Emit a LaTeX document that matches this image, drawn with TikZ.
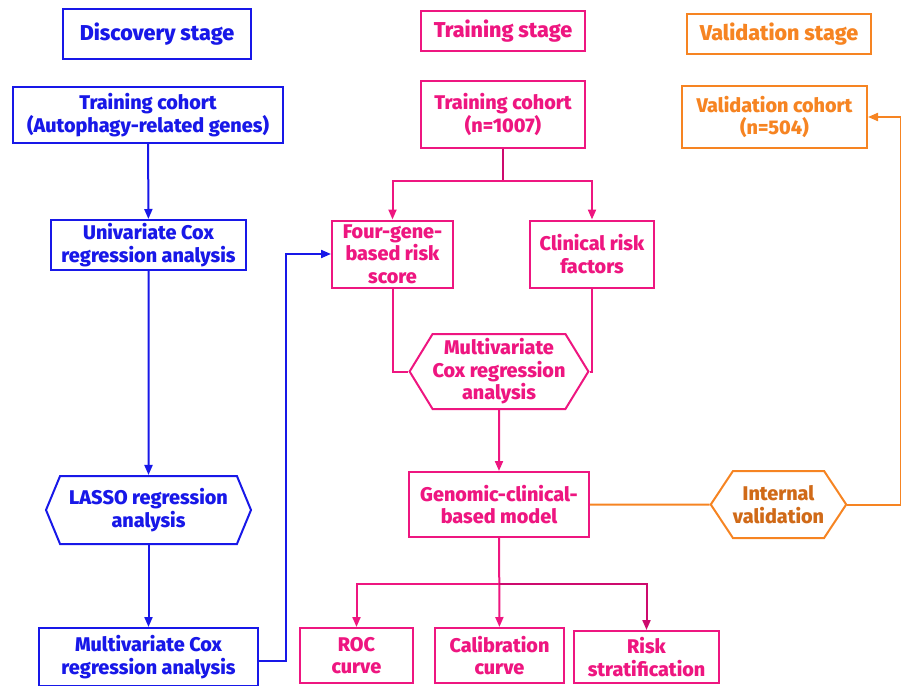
\documentclass[tikz,border=0pt]{standalone}
\usepackage{fontspec}
\setmainfont{Fira Sans}[BoldFont={Fira Sans ExtraBold}]
\usetikzlibrary{positioning,arrows.meta,shapes.symbols}

\definecolor{discblue}{RGB}{24,24,232}
\definecolor{trainpink}{RGB}{238,22,128}
\definecolor{stempink}{RGB}{205,10,110}
\definecolor{valorange}{RGB}{246,132,34}
\definecolor{valtext}{RGB}{208,106,24}

\begin{document}
\begin{tikzpicture}[
    x=1pt, y=-1pt,
    >={Triangle[length=10pt,width=8pt]},
    line width=2pt,
    every node/.style={font=\bfseries\fontsize{19.8}{22.5}\selectfont, align=center, inner sep=0pt},
    box/.style={draw, rectangle},
    hex/.style={draw, signal, signal to=east and west, signal pointer angle=#1},
    discstage/.style={draw=discblue, text=discblue},
    trainstage/.style={draw=trainpink, text=trainpink},
    valstage/.style={draw=valorange, text=valorange},
    title/.style={font=\bfseries\fontsize{21.5}{24}\selectfont}
]
\useasboundingbox (0,0) rectangle (901,685);

% ---------------- Discovery stage ----------------
\node[box,discstage,title,minimum width=188,minimum height=50] (disc) at (157,34) {Discovery stage};
\node[box,discstage,minimum width=270,minimum height=56] (trB) at (148,115) {Training cohort\\(Autophagy-related genes)};
\node[box,discstage,minimum width=195,minimum height=50] (uni) at (148.5,245) {Univariate Cox\\regression analysis};
\node[hex=135,discstage,minimum width=205,minimum height=68] (lasso) at (148.5,510) {LASSO regression\\analysis};
\node[box,discstage,minimum width=219,minimum height=58] (multB) at (148.5,657) {Multivariate Cox\\regression analysis};

% ---------------- Training stage ----------------
\node[box,trainstage,title,minimum width=164,minimum height=40] (trS) at (503,31) {Training stage};
\node[box,trainstage,minimum width=164,minimum height=67] (trP) at (503,114.5) {Training cohort\\(n=1007)};
\node[box,trainstage,minimum width=121,minimum height=67] (four) at (392.5,254) {Four-gene-\\based risk\\score};
\node[box,trainstage,minimum width=124,minimum height=67] (clin) at (592,254) {Clinical risk\\factors};
\node[hex=117,trainstage,minimum width=154,minimum height=75] (multP) at (499,371.5) {Multivariate\\Cox regression\\analysis};
\node[box,trainstage,minimum width=180,minimum height=65] (gcm) at (499,504.5) {Genomic-clinical-\\based model};
\node[box,trainstage,minimum width=113,minimum height=55] (roc) at (356.5,655.5) {ROC\\curve};
\node[box,trainstage,minimum width=129,minimum height=55] (calib) at (499.5,655.5) {Calibration\\curve};
\node[box,trainstage,minimum width=145,minimum height=52] (risk) at (646.5,657) {Risk\\stratification};

% ---------------- Validation stage ----------------
\node[box,valstage,title,minimum width=184,minimum height=40] (valS) at (779,34) {Validation stage};
\node[box,valstage,minimum width=185,minimum height=62] (valC) at (774.5,117) {Validation cohort\\(n=504)};
\node[hex=113,draw=valorange,text=valtext,minimum width=131,minimum height=67] (intv) at (778.5,504.5) {Internal\\validation};

\coordinate (trsplit) at (503,181);
\coordinate (gsplit) at (499,584);

% ---------------- Connectors ----------------
% Discovery
\draw[->,discblue] (trB) -- (uni);
\draw[->,discblue] (uni) -- (lasso);
\draw[->,discblue] (lasso) -- (multB);
\draw[->,discblue] (multB.east) ++(0,4) -- ++(27,0) |- (four.west);

% Training
\draw[stempink] (trP) -- (trsplit);
\draw[->,trainpink] (trsplit) -| (four.north);
\draw[->,trainpink] (trsplit) -| (clin.north);
\draw[trainpink] (four.south) |- (multP.west);
\draw[trainpink] (clin.south) |- (multP.east);
\draw[->,trainpink] (multP) -- (gcm);
\draw[->,trainpink] (gcm) -- (calib);
\draw[->,trainpink] (gsplit) -| (roc.north);
\draw[->,stempink] (gsplit) -| (risk.north);

% Validation
\draw[valorange] (gcm) -- (intv);
\draw[->,valorange] (intv.east) -- ++(54,0) |- (valC.east);

\end{tikzpicture}
\end{document}
